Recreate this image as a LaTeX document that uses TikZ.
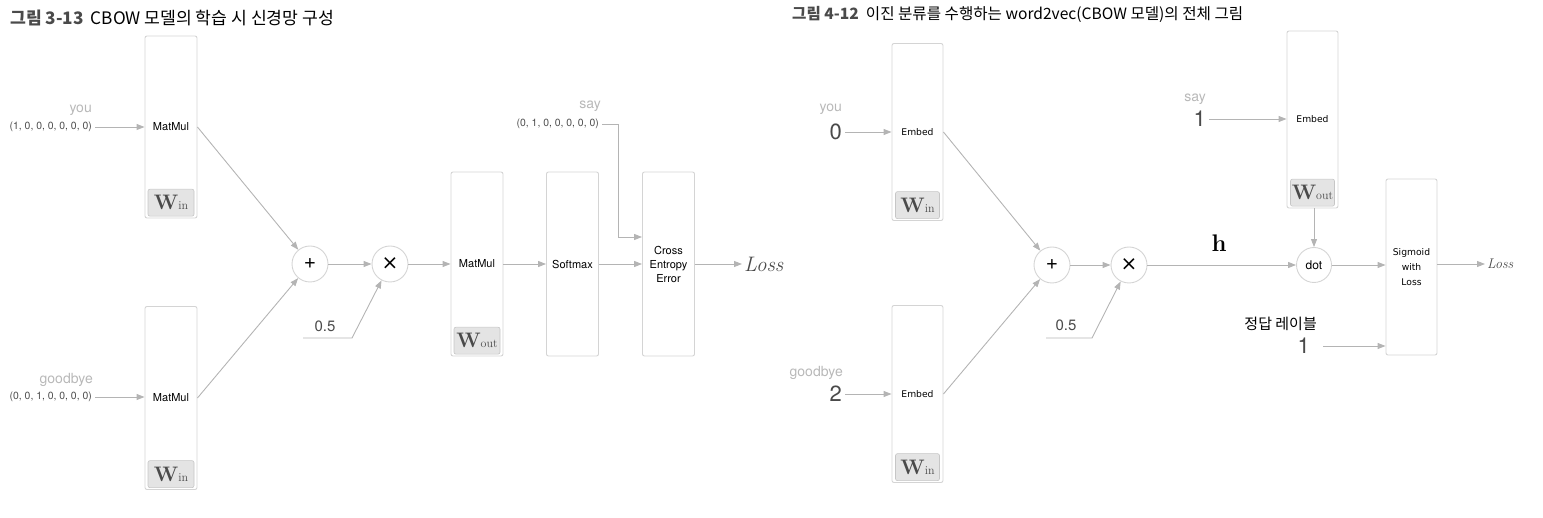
\documentclass[tikz,border=0pt]{standalone}
\usepackage{fontspec}
\setsansfont{TeX Gyre Heros}
\newfontfamily\kr{Noto Sans CJK KR}
\newfontfamily\opfont{DejaVu Sans}
\usetikzlibrary{arrows.meta,positioning,calc}

\definecolor{linegray}{HTML}{B4B4B4}
\definecolor{boxgray}{HTML}{D4D4D4}
\definecolor{wfill}{HTML}{E4E4E4}
\definecolor{wdraw}{HTML}{C6C6C6}
\definecolor{labelgray}{HTML}{B8B8B8}
\definecolor{textgray}{HTML}{4A4A4A}

\newcommand{\Wmat}[1]{\textcolor{textgray}{\fontsize{21}{21}\selectfont\bfseries W}\textcolor{textgray}{\fontsize{12}{12}\selectfont #1}}

\tikzset{
    layer/.style={draw=boxgray, line width=0.9pt, rounded corners=2pt, minimum width=52pt,
        inner sep=0pt, align=center, font=\sffamily\fontsize{11}{14}\selectfont},
    embbox/.style={layer, minimum width=51pt, minimum height=177pt, font=\opfont\fontsize{9.2}{15}\selectfont},
    weight/.style={draw=wdraw, fill=wfill, line width=0.6pt, rounded corners=2pt,
        minimum width=46pt, minimum height=27pt, inner sep=0pt},
    op/.style={circle, draw=boxgray, line width=0.9pt, minimum size=36pt, inner sep=0pt,
        font=\sffamily\fontsize{21}{21}\selectfont},
    mulop/.style={op, font=\opfont\fontsize{20}{20}\selectfont},
    arr/.style={draw=linegray, line width=0.9pt, -{Triangle[length=8pt,width=6pt]}},
    word/.style={anchor=east, text=labelgray, font=\sffamily\fontsize{14}{14}\selectfont, inner sep=0pt},
    vec/.style={anchor=east, text=textgray, font=\sffamily\fontsize{10.4}{11}\selectfont, inner sep=3pt},
    idx/.style={anchor=east, text=textgray, font=\sffamily\fontsize{22}{22}\selectfont, inner sep=3pt},
    lossl/.style={anchor=west, text=textgray, font=\itshape\fontsize{21}{21}\selectfont, inner sep=2pt},
    half/.style={text=textgray, font=\sffamily\fontsize{15}{15}\selectfont},
}

\begin{document}
\begin{tikzpicture}[x=1pt, y=-1pt]
    \useasboundingbox (0,0) rectangle (1543,518);

    % titles
    \node[anchor=west, inner sep=0pt, font=\kr\fontsize{17.2}{18}\selectfont] (title1) at (10,18)
        {\textcolor{textgray}{\bfseries 그림 3-13}\hspace{7pt}CBOW 모델의 학습 시 신경망 구성};
    \node[anchor=west, inner sep=0pt, font=\kr\fontsize{15.6}{16}\selectfont] (title2) at (792,14)
        {\textcolor{textgray}{\bfseries 그림 4-12}\hspace{7pt}이진 분류를 수행하는 word2vec(CBOW 모델)의 전체 그림};

    % ---- left: CBOW training
    \node[layer, minimum height=182pt] (mm1) at (171,127) {MatMul};
    \node[weight, above=2pt of mm1.south] (w1) {\Wmat{in}};
    \node[layer, minimum height=183pt] (mm2) at (171,398) {MatMul};
    \node[weight, above=2pt of mm2.south] (w2) {\Wmat{in}};

    \node[word] (you1) at (92,110) {you};
    \node[vec] (vec1) at (95,127) {(1, 0, 0, 0, 0, 0, 0)};
    \node[word] (bye1) at (93,380) {goodbye};
    \node[vec] (vec2) at (95,397) {(0, 0, 1, 0, 0, 0, 0)};
    \draw[arr] (vec1.east) -- (vec1.east -| mm1.west);
    \draw[arr] (vec2.east) -- (vec2.east -| mm2.west);

    \node[op] (plus1) at (310,264) {+};
    \node[mulop] (times1) at (390,264) {×};
    \draw[arr] (mm1.east) -- (plus1);
    \draw[arr] (mm2.east) -- (plus1);
    \draw[arr] (plus1) -- (times1);

    \node[half] (half1) at (325,326) {0.5};
    \coordinate (hs1) at (303,338);
    \coordinate (hk1) at (352,338);
    \draw[arr] (hs1) -- (hk1) -- (times1);

    \node[layer, minimum height=184pt] (mmo) at (477,264) {MatMul};
    \node[weight, above=2pt of mmo.south] (wo1) {\Wmat{out}};
    \node[layer, minimum height=184pt] (soft) at (572.5,264) {Softmax};
    \node[layer, minimum height=184pt] (cee) at (668.5,264) {Cross\\Entropy\\Error};
    \node[lossl] (loss1) at (742,264) {Loss};
    \draw[arr] (times1) -- (mmo);
    \draw[arr] (mmo) -- (soft);
    \draw[arr] (soft) -- (cee);
    \draw[arr] (cee) -- (loss1);

    \node[word] (say1) at (601,106) {say};
    \node[vec] (vec3) at (602,124) {(0, 1, 0, 0, 0, 0, 0)};
    \coordinate (sayk) at (618,124);
    \draw[arr] (vec3.east) -- (sayk) |- ([yshift=27pt]cee.west);

    % ---- right: word2vec with binary classification
    \node[embbox] (emb1) at (917.5,132) {Embed};
    \node[weight, minimum width=44pt, above=2pt of emb1.south] (w3) {\Wmat{in}};
    \node[embbox] (emb2) at (917.5,394) {Embed};
    \node[weight, minimum width=44pt, above=2pt of emb2.south] (w4) {\Wmat{in}};

    \node[word] (you2) at (842,109) {you};
    \node[idx] (id1) at (845,132) {0};
    \node[word] (bye2) at (843,373) {goodbye};
    \node[idx] (id2) at (845,394) {2};
    \draw[arr] (id1.east) -- (id1.east -| emb1.west);
    \draw[arr] (id2.east) -- (id2.east -| emb2.west);

    \node[op] (plus2) at (1052,265) {+};
    \node[mulop] (times2) at (1129,265) {×};
    \draw[arr] (emb1.east) -- (plus2);
    \draw[arr] (emb2.east) -- (plus2);
    \draw[arr] (plus2) -- (times2);

    \node[half] (half2) at (1066,325) {0.5};
    \coordinate (hs2) at (1046,338);
    \coordinate (hk2) at (1092,338);
    \draw[arr] (hs2) -- (hk2) -- (times2);

    \node[embbox] (embo) at (1312.5,119.5) {Embed};
    \node[weight, minimum width=44pt, above=2pt of embo.south] (wo2) {\Wmat{out}};
    \node[word] (say2) at (1206,99) {say};
    \node[idx] (id3) at (1209,119) {1};
    \draw[arr] (id3.east) -- (id3.east -| embo.west);

    \node[op, minimum size=35pt, font=\sffamily\fontsize{12}{12}\selectfont] (dot) at (1314,265) {dot};
    \draw[arr] (times2) -- (dot);
    \node[font=\bfseries\fontsize{24}{24}\selectfont] (hlab) at (1219,243) {h};
    \draw[arr] (embo.south -| dot.north) -- (dot.north);

    \node[embbox, minimum height=176pt] (sig) at (1411.5,267) {Sigmoid\\with\\Loss};
    \node[lossl, font=\itshape\fontsize{14}{14}\selectfont] (loss2) at (1485,264) {Loss};
    \draw[arr] (dot) -- (dot -| sig.west);
    \draw[arr] (sig.east |- loss2.west) -- (loss2.west);

    \node[anchor=east, inner sep=0pt, font=\kr\fontsize{15}{15}\selectfont] (ans) at (1317,324) {정답 레이블};
    \node[idx] (id4) at (1313,346) {1};
    \draw[arr] (id4.east) ++(10,0) coordinate (ansk) -- (ansk -| sig.west);
\end{tikzpicture}
\end{document}
